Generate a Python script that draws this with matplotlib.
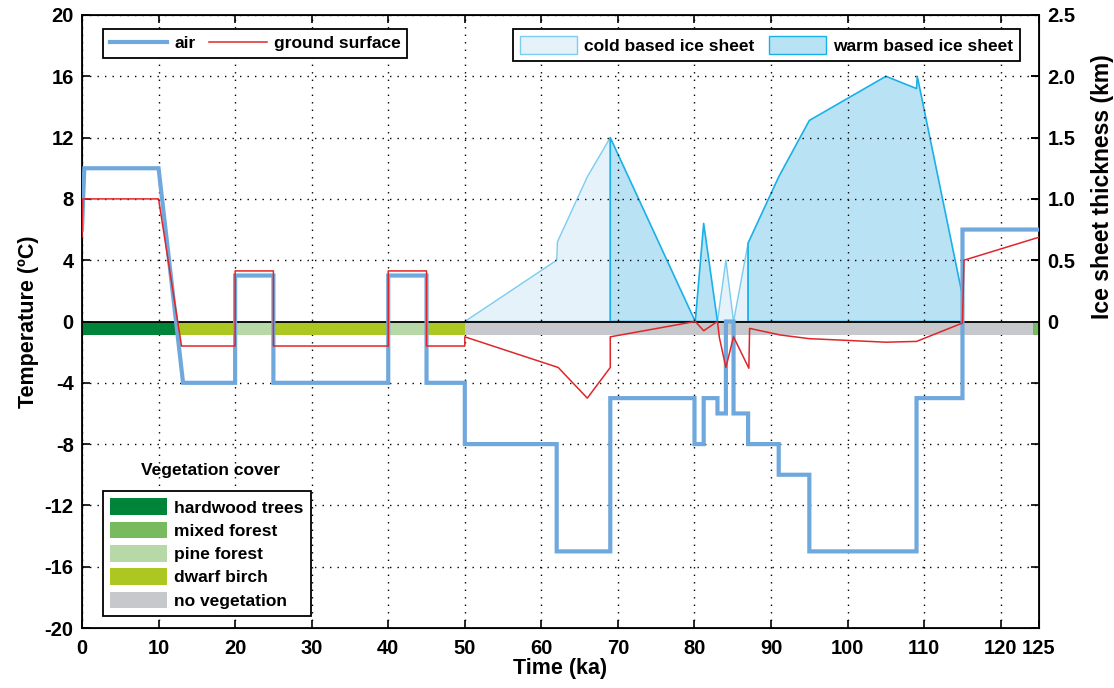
import numpy as np
import matplotlib
matplotlib.use('Agg')
from matplotlib import pyplot as plt
from matplotlib.lines import Line2D
from matplotlib.patches import Patch

plt.rcParams['font.family'] = ['Liberation Sans', 'DejaVu Sans']
plt.rcParams['font.weight'] = 'bold'
plt.rcParams['axes.labelweight'] = 'bold'
plt.rcParams['axes.unicode_minus'] = False

# air temperature (degC)
air_ka = [0, 0.3, 10, 13.2, 20, 20, 25, 25, 40, 40, 45, 45, 50, 50, 62, 62, 69, 69,
          80, 80, 81.2, 81.2, 83, 83, 84.1, 84.1, 85.1, 85.1, 87, 87, 91, 91, 95, 95,
          109, 109, 115, 115, 125]
air_t = [6, 10, 10, -4, -4, 3, 3, -4, -4, 3, 3, -4, -4, -8, -8, -15, -15, -5,
         -5, -8, -8, -5, -5, -6, -6, 0, 0, -6, -6, -8, -8, -10, -10, -15,
         -15, -5, -5, 6, 6]

# ground surface temperature (degC)
gnd_ka = [0, 0.1, 10, 13, 20, 20, 25, 25, 40, 40, 45, 45, 50, 50, 62.2, 66, 69, 69,
          80.1, 81.2, 83, 83.25, 84.1, 85.1, 87.1, 87.2, 91.2, 95, 105, 109, 115, 115.2, 125]
gnd_t = [5.5, 8, 8, -1.6, -1.6, 3.3, 3.3, -1.6, -1.6, 3.3, 3.3, -1.6, -1.6, -1.0, -3.0, -5.0, -3.0, -1.0,
         0, -0.6, 0, -1.05, -3.0, -1.0, -3.05, -0.45, -0.88, -1.12, -1.35, -1.3, -0.1, 4.0, 5.5]

# ice sheet thickness (km) and periods with a warm base
ice_ka = [50, 62, 62.1, 66, 69, 80.1, 81.2, 83, 84.1, 85.1, 87, 91, 95, 105, 109, 109.1, 114.9, 115]
ice_km = [0, 0.5, 0.65, 1.18, 1.5, 0, 0.8, 0, 0.5, 0, 0.64, 1.18, 1.64, 2.0, 1.9, 2.0, 0.24, 0]
warm_periods = [(69, 83), (87, 115)]

# vegetation cover
veg_start = [0, 12.3, 20, 25, 40, 45, 50, 124.2]
veg_end = [12.3, 20, 25, 40, 45, 50, 124.2, 125]
veg_cover = ['hardwood trees', 'dwarf birch', 'pine forest', 'dwarf birch',
             'pine forest', 'dwarf birch', 'no vegetation', 'mixed forest']
veg_names = ['hardwood trees', 'mixed forest', 'pine forest', 'dwarf birch', 'no vegetation']
veg_colors = {'hardwood trees': '#00843A', 'mixed forest': '#78BB5F', 'pine forest': '#B6D9A7',
              'dwarf birch': '#ACC722', 'no vegetation': '#C6C8CC'}

air_col = '#6FA8DC'
gnd_col = '#E0262A'
cold_fc, cold_ec = '#E6F2FA', '#7ACCF0'
warm_fc, warm_ec = '#BAE2F5', '#1AB0E8'

fig = plt.figure(figsize=(11.14, 6.88), dpi=100)
ax = fig.add_axes([0.0736, 0.0872, 0.8591, 0.8910])
ax2 = ax.twinx()
ax.set_zorder(ax2.get_zorder() + 1)
ax.patch.set_visible(False)

# ice sheet on the right axis
x = np.array(ice_ka)
h = np.array(ice_km)
warm = np.zeros(len(x), dtype=bool)
for a, b in warm_periods:
    warm |= (x >= a) & (x <= b)
cold = ~warm | np.isin(x, [p[0] for p in warm_periods]) | np.isin(x, [p[1] for p in warm_periods])
cold &= ~((x > 87) & (x <= 115))
ax2.fill_between(x, 0, h, where=cold, facecolor=cold_fc, edgecolor=cold_ec, lw=1, zorder=1)
ax2.fill_between(x, 0, h, where=warm, facecolor=warm_fc, edgecolor=warm_ec, lw=1.2, zorder=2)
ax2.set_ylim(-2.5, 2.5)
ax2.set_yticks([0, 0.5, 1.0, 1.5, 2.0, 2.5])
ax2.set_yticklabels(['0', '0.5', '1.0', '1.5', '2.0', '2.5'])
ax2.tick_params(direction='in', length=6, width=1.2, labelsize=14.5, pad=6)
ax2.set_ylabel('Ice sheet thickness (km)', fontsize=16.5)
ax2.yaxis.set_label_coords(1.054, 0.72)

# vegetation bar just below zero
widths = [e - s for s, e in zip(veg_start, veg_end)]
ax.barh(-0.85, widths, left=veg_start, height=0.85, align='edge',
        color=[veg_colors[v] for v in veg_cover], lw=0, zorder=2)
ax.axhline(0, color='k', lw=1.3, zorder=3)

ax.plot(air_ka, air_t, color=air_col, lw=3, solid_joinstyle='miter', zorder=4)
ax.plot(gnd_ka, gnd_t, color=gnd_col, lw=1.1, zorder=5)

ax.set_xlim(0, 125)
ax.set_ylim(-20, 20)
ax.set_xticks([0, 10, 20, 30, 40, 50, 60, 70, 80, 90, 100, 110, 120, 125])
ax.set_yticks(np.arange(-20, 21, 4))
ax.tick_params(direction='in', top=True, right=True, length=6, width=1.2, labelsize=14.5, pad=6)
ax.tick_params(axis='x', pad=8)
ax.set_axisbelow(True)
ax.grid(True, color='k', lw=1, linestyle=(0, (1, 4.4)))
for s in ax.spines.values():
    s.set_linewidth(1.3)
ax.set_xlabel('Time (ka)', fontsize=15.5, labelpad=0)
ax.set_ylabel('Temperature (ºC)', fontsize=15.5, labelpad=4)

leg_kw = dict(fontsize=12.5, frameon=True, fancybox=False, framealpha=1,
              edgecolor='k', borderaxespad=0, handlelength=3.3)

h1 = [Line2D([], [], color=air_col, lw=3), Line2D([], [], color=gnd_col, lw=1.1)]
leg1 = ax.legend(h1, ['air', 'ground surface'], ncol=2, loc='upper left',
                 bbox_to_anchor=(0.022, 0.977), columnspacing=0.8, handletextpad=0.4, **leg_kw)
leg1.get_frame().set_linewidth(1.3)
ax.add_artist(leg1)

h2 = [Patch(facecolor=cold_fc, edgecolor=cold_ec), Patch(facecolor=warm_fc, edgecolor=warm_ec)]
leg2 = ax.legend(h2, ['cold based ice sheet', 'warm based ice sheet'], ncol=2, loc='upper right',
                 bbox_to_anchor=(0.980, 0.977), columnspacing=0.8, handletextpad=0.4,
                 handleheight=1.2, **leg_kw)
leg2.get_frame().set_linewidth(1.3)
ax.add_artist(leg2)

h3 = [Patch(facecolor=veg_colors[n], edgecolor='none') for n in veg_names]
leg3 = ax.legend(h3, veg_names, loc='lower left', bbox_to_anchor=(0.022, 0.02),
                 handleheight=1.1, labelspacing=0.35, handletextpad=0.4, **leg_kw)
leg3.get_frame().set_linewidth(1.3)
ax.text(0.134, 0.257, 'Vegetation cover', transform=ax.transAxes, ha='center', va='center',
        fontsize=12.5)

fig.savefig('out.png', dpi=100)
